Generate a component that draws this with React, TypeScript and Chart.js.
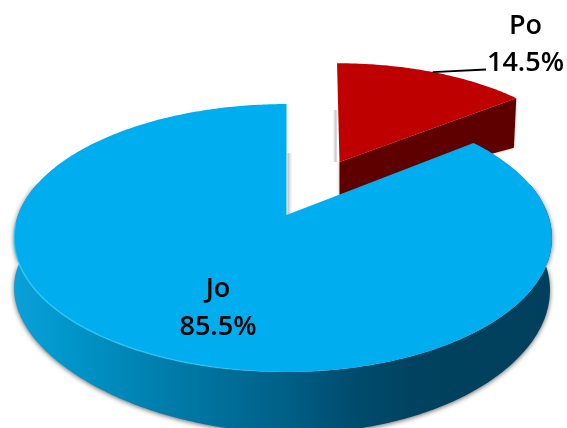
import React, { useEffect, useRef } from "react";
import { Chart, registerables } from "chart.js";

Chart.register(...registerables);

const categories = ["Po", "Jo"];
const shares = [14.5, 85.5];

const topColors = ["#BF0000", "#00AEEF"];

type Geo = {
  ax: number; ay: number; aL: number; aR: number; b: number; k: number; lean: number;
  depth: (u: number, v: number) => number; narrow: number;
};

const geometry: Geo[] = [
  {
    ax: 339.5, ay: 162, aL: 247, aR: 247, b: 114, k: 0.154, lean: 0.025,
    depth: (u) => 33 + 21 * u, narrow: 3,
  },
  {
    ax: 286.5, ay: 215, aL: 268.4, aR: 261.5, b: 130, k: 0.1716, lean: 0,
    depth: (u, v) => 51 + 10 * v * v * v + 6 * u * v, narrow: 2,
  },
];

const labelSpots = [
  { x: 525.5, nameY: 34, valueY: 71 },
  { x: 218, nameY: 297, valueY: 335 },
];

function top(g: Geo, u: number, v: number) {
  const den = 1 - g.k * v;
  const a = u < 0 ? g.aL : g.aR;
  const y = (g.b * v) / den;
  return { x: g.ax + (a * u) / den + g.lean * y, y: g.ay + y };
}
function bottom(g: Geo, u: number, v: number) {
  const p = top(g, u, v);
  return { x: p.x - Math.max(0, u) * g.narrow, y: p.y + g.depth(u, v) };
}

function arcPoints(f: (u: number, v: number) => { x: number; y: number }, s: number, e: number) {
  const pts: { x: number; y: number }[] = [];
  const n = Math.max(2, Math.ceil(Math.abs(e - s) * 80));
  for (let i = 0; i <= n; i++) {
    const t = s + ((e - s) * i) / n;
    pts.push(f(Math.cos(t), Math.sin(t)));
  }
  return pts;
}

function trace(ctx: CanvasRenderingContext2D, pts: { x: number; y: number }[], close = true) {
  ctx.beginPath();
  pts.forEach((p, i) => (i ? ctx.lineTo(p.x, p.y) : ctx.moveTo(p.x, p.y)));
  if (close) ctx.closePath();
}

function edgeShade(ctx: CanvasRenderingContext2D, p0: { x: number; y: number }, p1: { x: number; y: number }, dir: number, w: number) {
  const g = ctx.createLinearGradient(p0.x, 0, p0.x + dir * w, 0);
  g.addColorStop(0, "rgba(110,110,110,0.5)");
  g.addColorStop(1, "rgba(170,170,170,0)");
  ctx.fillStyle = g;
  ctx.fillRect(Math.min(p0.x, p0.x + dir * w), Math.min(p0.y, p1.y), w, Math.abs(p1.y - p0.y));
}

const pie3d = {
  id: "pie3d",
  afterDatasetsDraw(chart: any) {
    const ctx: CanvasRenderingContext2D = chart.ctx;
    const arcs = chart.getDatasetMeta(0).data;
    const redArc = arcs[0];
    const blueArc = arcs[1];
    const R = geometry[0];
    const B = geometry[1];
    ctx.save();

    // shadow strips beside the cut edges
    edgeShade(ctx, { x: R.ax - 3, y: R.ay }, { x: R.ax - 3, y: R.ay - 52 }, -1, 4);

    // red slice: cut face and outer wall
    const rs = redArc.startAngle;
    const re = redArc.endAngle;
    const rApex = top(R, 0, 0);
    const rApexB = bottom(R, 0, 0);
    const rTip = arcPoints((u, v) => top(R, u, v), re, re + 0.001)[0];
    const rTipB = arcPoints((u, v) => bottom(R, u, v), re, re + 0.001)[0];
    ctx.shadowColor = "rgba(0,0,0,0.35)";
    ctx.shadowBlur = 3;
    ctx.fillStyle = "#5E0000";
    trace(ctx, [rApex, rTip, rTipB, rApexB]);
    ctx.fill();
    ctx.shadowColor = "transparent";
    ctx.shadowBlur = 0;
    ctx.fillStyle = topColors[0];
    trace(ctx, [rApex, ...arcPoints((u, v) => top(R, u, v), rs, re)]);
    ctx.fill();

    // blue slice wall
    const wallTop = arcPoints((u, v) => top(B, u, v), -0.25, Math.PI + 0.25);
    const wallBottom = arcPoints((u, v) => bottom(B, u, v), Math.PI + 0.25, -0.25);
    const wall = ctx.createLinearGradient(14, 0, 552, 0);
    wall.addColorStop(0, "#0BA0D8");
    wall.addColorStop(0.1, "#0096CA");
    wall.addColorStop(0.23, "#0084B4");
    wall.addColorStop(0.35, "#0074A0");
    wall.addColorStop(0.5, "#006088");
    wall.addColorStop(0.63, "#004C6E");
    wall.addColorStop(0.75, "#00425F");
    wall.addColorStop(1, "#00405C");
    ctx.shadowColor = "rgba(0,0,0,0.6)";
    ctx.shadowBlur = 5;
    ctx.shadowOffsetY = 1;
    ctx.fillStyle = wall;
    trace(ctx, [...wallTop, ...wallBottom]);
    ctx.fill();
    ctx.shadowColor = "transparent";
    ctx.shadowBlur = 0;
    ctx.shadowOffsetY = 0;

    // blue edge shade in the gap
    edgeShade(ctx, { x: B.ax + 1, y: B.ay }, { x: B.ax + 1, y: B.ay - 62 }, 1, 5);

    // blue top surface
    ctx.fillStyle = topColors[1];
    const bApex = top(B, 0, 0);
    trace(ctx, [bApex, ...arcPoints((u, v) => top(B, u, v), blueArc.startAngle, blueArc.endAngle)]);
    ctx.fill();

    // light rim on the lower left edge
    const rim = ctx.createLinearGradient(14, 0, 290, 0);
    rim.addColorStop(0, "rgba(70,215,255,0.6)");
    rim.addColorStop(0.7, "rgba(70,215,255,0.45)");
    rim.addColorStop(1, "rgba(70,215,255,0)");
    ctx.strokeStyle = rim;
    ctx.lineWidth = 1.5;
    trace(ctx, arcPoints((u, v) => top(B, u, v), Math.PI * 0.98, Math.PI * 0.5), false);
    ctx.stroke();

    // labels
    ctx.fillStyle = "#000000";
    ctx.textAlign = "center";
    ctx.textBaseline = "alphabetic";
    ctx.font = '600 27px "Open Sans"';
    const values = chart.data.datasets[0].data as number[];
    labelSpots.forEach((s, i) => {
      ctx.fillText(chart.data.labels[i], s.x, s.nameY);
      ctx.fillText(values[i].toFixed(1) + "%", s.x, s.valueY);
    });

    // leader line
    const leaderAngle = rs + (re - rs) * 0.5;
    const from = top(R, Math.cos(leaderAngle), Math.sin(leaderAngle));
    ctx.strokeStyle = "#000000";
    ctx.lineWidth = 1.8;
    ctx.beginPath();
    ctx.moveTo(from.x, from.y);
    ctx.lineTo(486, 69.5);
    ctx.stroke();
    ctx.restore();
  },
};

export default function App() {
  const ref = useRef<HTMLCanvasElement>(null);
  useEffect(() => {
    if (!ref.current) return;
    const chart = new Chart(ref.current, {
      type: "pie",
      data: {
        labels: categories,
        datasets: [{ data: shares, backgroundColor: "rgba(0,0,0,0)", borderWidth: 0 }],
      },
      options: {
        animation: false,
        responsive: false,
        rotation: 0,
        plugins: { legend: { display: false }, tooltip: { enabled: false } },
      },
      plugins: [pie3d],
    } as any);
    return () => chart.destroy();
  }, []);
  return (
    <canvas
      ref={ref}
      width={567}
      height={428}
      style={{ position: "fixed", left: 0, top: 0, width: 567, height: 428, display: "block", background: "#fff" }}
    />
  );
}
